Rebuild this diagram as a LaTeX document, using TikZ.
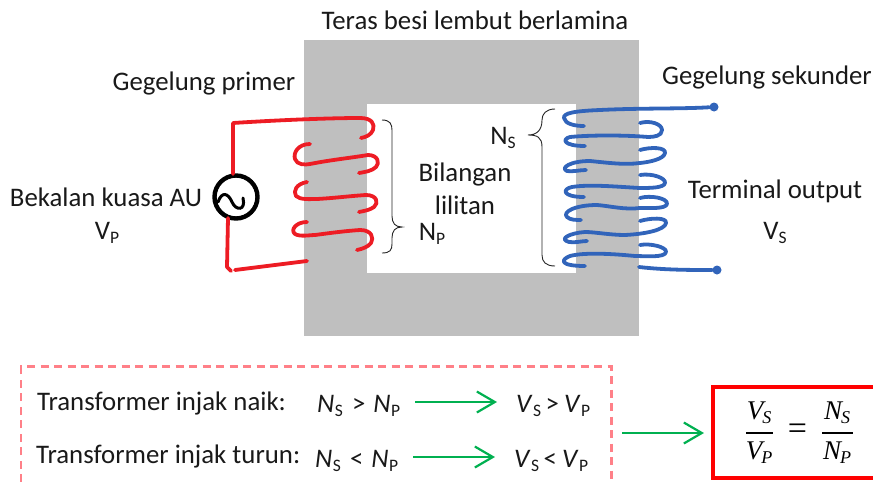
\documentclass[tikz,border=0pt]{standalone}
\usepackage{fontspec}
\setmainfont{Carlito}
\newfontfamily\mathserif{Liberation Serif}
\usetikzlibrary{arrows.meta}
\definecolor{coilred}{HTML}{ED1C24}
\definecolor{coilblue}{HTML}{3164BA}
\definecolor{coregray}{HTML}{BFBFBF}
\definecolor{dashpink}{HTML}{FF8088}
\definecolor{arrowgreen}{HTML}{00B050}
\newcommand{\ivar}[2]{\textit{#1}\kern0.5pt\raisebox{-4pt}{\fontsize{17.5}{18}\selectfont #2}}
\newcommand{\rvar}[2]{#1\raisebox{-4pt}{\fontsize{17.5}{18}\selectfont #2}}
\newcommand{\fvar}[2]{{\mathserif\itshape #1\kern-1pt\raisebox{-4pt}{\fontsize{18}{18}\selectfont #2}}}
\tikzset{
 x=1pt,y=-1pt,
 lbl/.style={inner sep=0pt,font=\fontsize{26.8}{28}\selectfont,text=black!90},
 lblw/.style={lbl,anchor=west},
 frac/.style={inner sep=0pt,font=\fontsize{27}{28}\selectfont},
 redcoil/.style={draw=coilred,line width=3.8pt,line cap=round,line join=round},
 bluecoil/.style={draw=coilblue,line width=3.8pt,line cap=round,line join=round},
 bracecurve/.style={draw=black!85,line width=0.9pt},
 greenarrow/.style={draw=arrowgreen,line width=2.2pt,-{Straight Barb[length=18pt,width=21pt,line width=2.2pt]}},
 dot/.style={circle,fill=coilblue,inner sep=0pt,minimum size=9pt},
 source/.style={circle,draw=black,line width=4.4pt,inner sep=0pt,minimum size=43pt,fill=white},
}
\begin{document}
\begin{tikzpicture}
\useasboundingbox (0,0) rectangle (873,482);
% core
\fill[coregray] (304,40) rectangle (639,336);
\fill[white] (367,104) rectangle (576,273);
% source
\node[source] (ac) at (236,197) {};
\coordinate (actop) at (233,174);
\coordinate (acbot) at (228,218);
% primary coil
\coordinate (pend) at (307,261);
\draw[redcoil] (actop) -- (233,123) .. controls (280,120) and (330,118) .. (360,118) .. controls (372,118) and (375,124) .. (373,130) .. controls (371,135) and (366,137) .. (361,138);
\draw[redcoil] (310,144) .. controls (298,144) and (293,153) .. (295,159) .. controls (297,165) and (305,165) .. (310,164) .. controls (330,160) and (350,158) .. (368,155) .. controls (378,155) and (380,163) .. (376,167) .. controls (372,171) and (365,172) .. (359,173);
\draw[redcoil] (307,182) .. controls (296,184) and (293,191) .. (296,196) .. controls (300,200) and (310,199) .. (317,199) .. controls (335,198) and (350,196) .. (366,195) .. controls (377,195) and (379,203) .. (374,207) .. controls (370,210) and (364,211) .. (359,212);
\draw[redcoil] (307,222) .. controls (296,222) and (290,230) .. (295,234) .. controls (300,237) and (310,235) .. (315,235) .. controls (330,233) and (345,231) .. (360,230) .. controls (372,230) and (374,238) .. (371,243) .. controls (368,247) and (362,249) .. (357,250);
\draw[redcoil] (acbot) -- (227,267) -- (231,271);
\draw[redcoil] (235,270) -- (pend);
% tilde
\draw[black,line width=3pt,line cap=round] (218,202) .. controls (222,191) and (228,193) .. (232,202) .. controls (236,211) and (246,211) .. (243,198);
% secondary coil
\node[dot] (top) at (714,107) {};
\node[dot] (bot) at (717,270) {};
\draw[bluecoil] (top) .. controls (680,109) and (640,108) .. (600,110) .. controls (575,111) and (563,113) .. (564,118) .. controls (565,124) and (575,126) .. (584,126);
\draw[bluecoil] (640,123) .. controls (650,120) and (662,124) .. (662,130) .. controls (662,136) and (654,137) .. (648,137) .. controls (625,135) and (590,135) .. (570,137) .. controls (562,139) and (563,146) .. (585,146);
\draw[bluecoil] (640,150) .. controls (650,147) and (666,147) .. (665,153) .. controls (664,159) and (650,162) .. (640,163) .. controls (625,165) and (610,163) .. (590,161) .. controls (570,161) and (560,168) .. (567,171) .. controls (572,172) and (580,170) .. (586,170);
\draw[bluecoil] (640,175) .. controls (652,173) and (666,178) .. (665,183) .. controls (664,188) and (650,188) .. (640,188) .. controls (620,187) and (590,184) .. (572,187) .. controls (562,189) and (562,197) .. (584,197);
\draw[bluecoil] (640,198) .. controls (650,195) and (668,198) .. (667,204) .. controls (666,209) and (650,208) .. (640,208) .. controls (625,210) and (610,206) .. (597,205) .. controls (575,205) and (562,212) .. (567,217) .. controls (570,220) and (576,220) .. (581,220);
\draw[bluecoil] (640,221) .. controls (650,218) and (667,217) .. (666,223) .. controls (665,230) and (645,234) .. (625,235) .. controls (610,235) and (595,232) .. (585,232) .. controls (570,233) and (558,239) .. (569,242) .. controls (575,243) and (582,241) .. (587,241);
\draw[bluecoil] (640,245) .. controls (650,243) and (667,247) .. (666,252) .. controls (665,258) and (645,256) .. (635,256) .. controls (615,254) and (585,252) .. (570,256) .. controls (560,260) and (560,266) .. (585,266);
\coordinate (bstart) at (639,267);
\draw[bluecoil] (bstart) .. controls (665,270) and (690,270) .. (bot);
% braces
\coordinate (pb1) at (382,120); \coordinate (pb2) at (382,253); \coordinate (ptip) at (402,227);
\draw[bracecurve] (pb1) .. controls (390,120) and (392,124) .. (392,130) -- (392,216) .. controls (392,223) and (395,227) .. (ptip) .. controls (395,227) and (392,231) .. (392,238) -- (392,244) .. controls (392,250) and (390,253) .. (pb2);
\coordinate (sb1) at (555,109); \coordinate (sb2) at (555,266); \coordinate (stip) at (528,135);
\draw[bracecurve] (sb1) .. controls (546,109) and (542,114) .. (542,120) .. controls (542,130) and (537,135) .. (stip) .. controls (537,135) and (542,137) .. (542,147) -- (542,255) .. controls (542,262) and (546,266) .. (sb2);
% labels
\node[lbl] (t1) at (475,20) {Teras besi lembut berlamina};
\node[lbl] (t2) at (204,83.5) {Gegelung primer};
\node[lbl] (t3) at (767,77.5) {Gegelung sekunder};
\node[lbl] (t4) at (106,197) {Bekalan kuasa AU};
\node[lbl] (t5) at (107,233) {\rvar{V}{P}};
\node[lbl] (t6) at (775,191.5) {Terminal output};
\node[lbl] (t7) at (775,233) {\rvar{V}{S}};
\node[lbl] (t8) at (465,174.5) {Bilangan};
\node[lbl] (t9) at (465,205) {lilitan};
\node[lbl] (t10) at (432,234) {\rvar{N}{P}};
\node[lbl] (t11) at (503,138) {\rvar{N}{S}};
% dashed box (runs off the bottom of the page)
\coordinate (d1) at (21,482); \coordinate (d2) at (21,366.5); \coordinate (d3) at (611.5,366.5); \coordinate (d4) at (611.5,482);
\draw[draw=dashpink,line width=2.6pt,dash pattern=on 8pt off 5.5pt] (d1) -- (d2) -- (d3) -- (d4);
% rows
\node[lblw] (r1) at (37,403.5) {Transformer injak naik:};
\node[lblw] (r2) at (36,456.5) {Transformer injak turun:};
\node[lblw] (n1) at (317,406) {\ivar{N}{S}\kern9pt>\kern8pt\ivar{N}{P}};
\node[lblw] (n2) at (315,461) {\ivar{N}{S}\kern9pt<\kern8pt\ivar{N}{P}};
\node[lblw] (v1) at (516,406) {\ivar{V}{S}\kern4.5pt>\kern5pt\ivar{V}{P}};
\node[lblw] (v2) at (514,461) {\ivar{V}{S}\kern4.5pt<\kern5pt\ivar{V}{P}};
\coordinate (a1s) at (415,402); \coordinate (a1e) at (497,402);
\coordinate (a2s) at (413,457); \coordinate (a2e) at (495,457);
\coordinate (a3s) at (622,433); \coordinate (a3e) at (704,433);
\draw[greenarrow] (a1s) -- (a1e);
\draw[greenarrow] (a2s) -- (a2e);
\draw[greenarrow] (a3s) -- (a3e);
% formula box (right side runs off the page)
\coordinate (b1) at (875,386.5); \coordinate (b2) at (712.5,386.5); \coordinate (b3) at (712.5,478); \coordinate (b4) at (875,478);
\draw[draw=red,line width=4pt] (b1) -- (b2) -- (b3) -- (b4);
\node[frac] (fvs) at (759,413) {\fvar{V}{S}};
\node[frac] (fvp) at (759,453) {\fvar{V}{P}};
\node[frac] (fns) at (837,413) {\fvar{N}{S}};
\node[frac] (fnp) at (837,453) {\fvar{N}{P}};
\node[inner sep=0pt,font=\fontsize{34}{34}\selectfont] (feq) at (797.5,432) {\mathserif =};
\coordinate (f1a) at (746,433); \coordinate (f1b) at (773,433);
\coordinate (f2a) at (822,433); \coordinate (f2b) at (853,433);
\draw[line width=1.5pt] (f1a) -- (f1b);
\draw[line width=1.5pt] (f2a) -- (f2b);
\end{tikzpicture}
\end{document}
